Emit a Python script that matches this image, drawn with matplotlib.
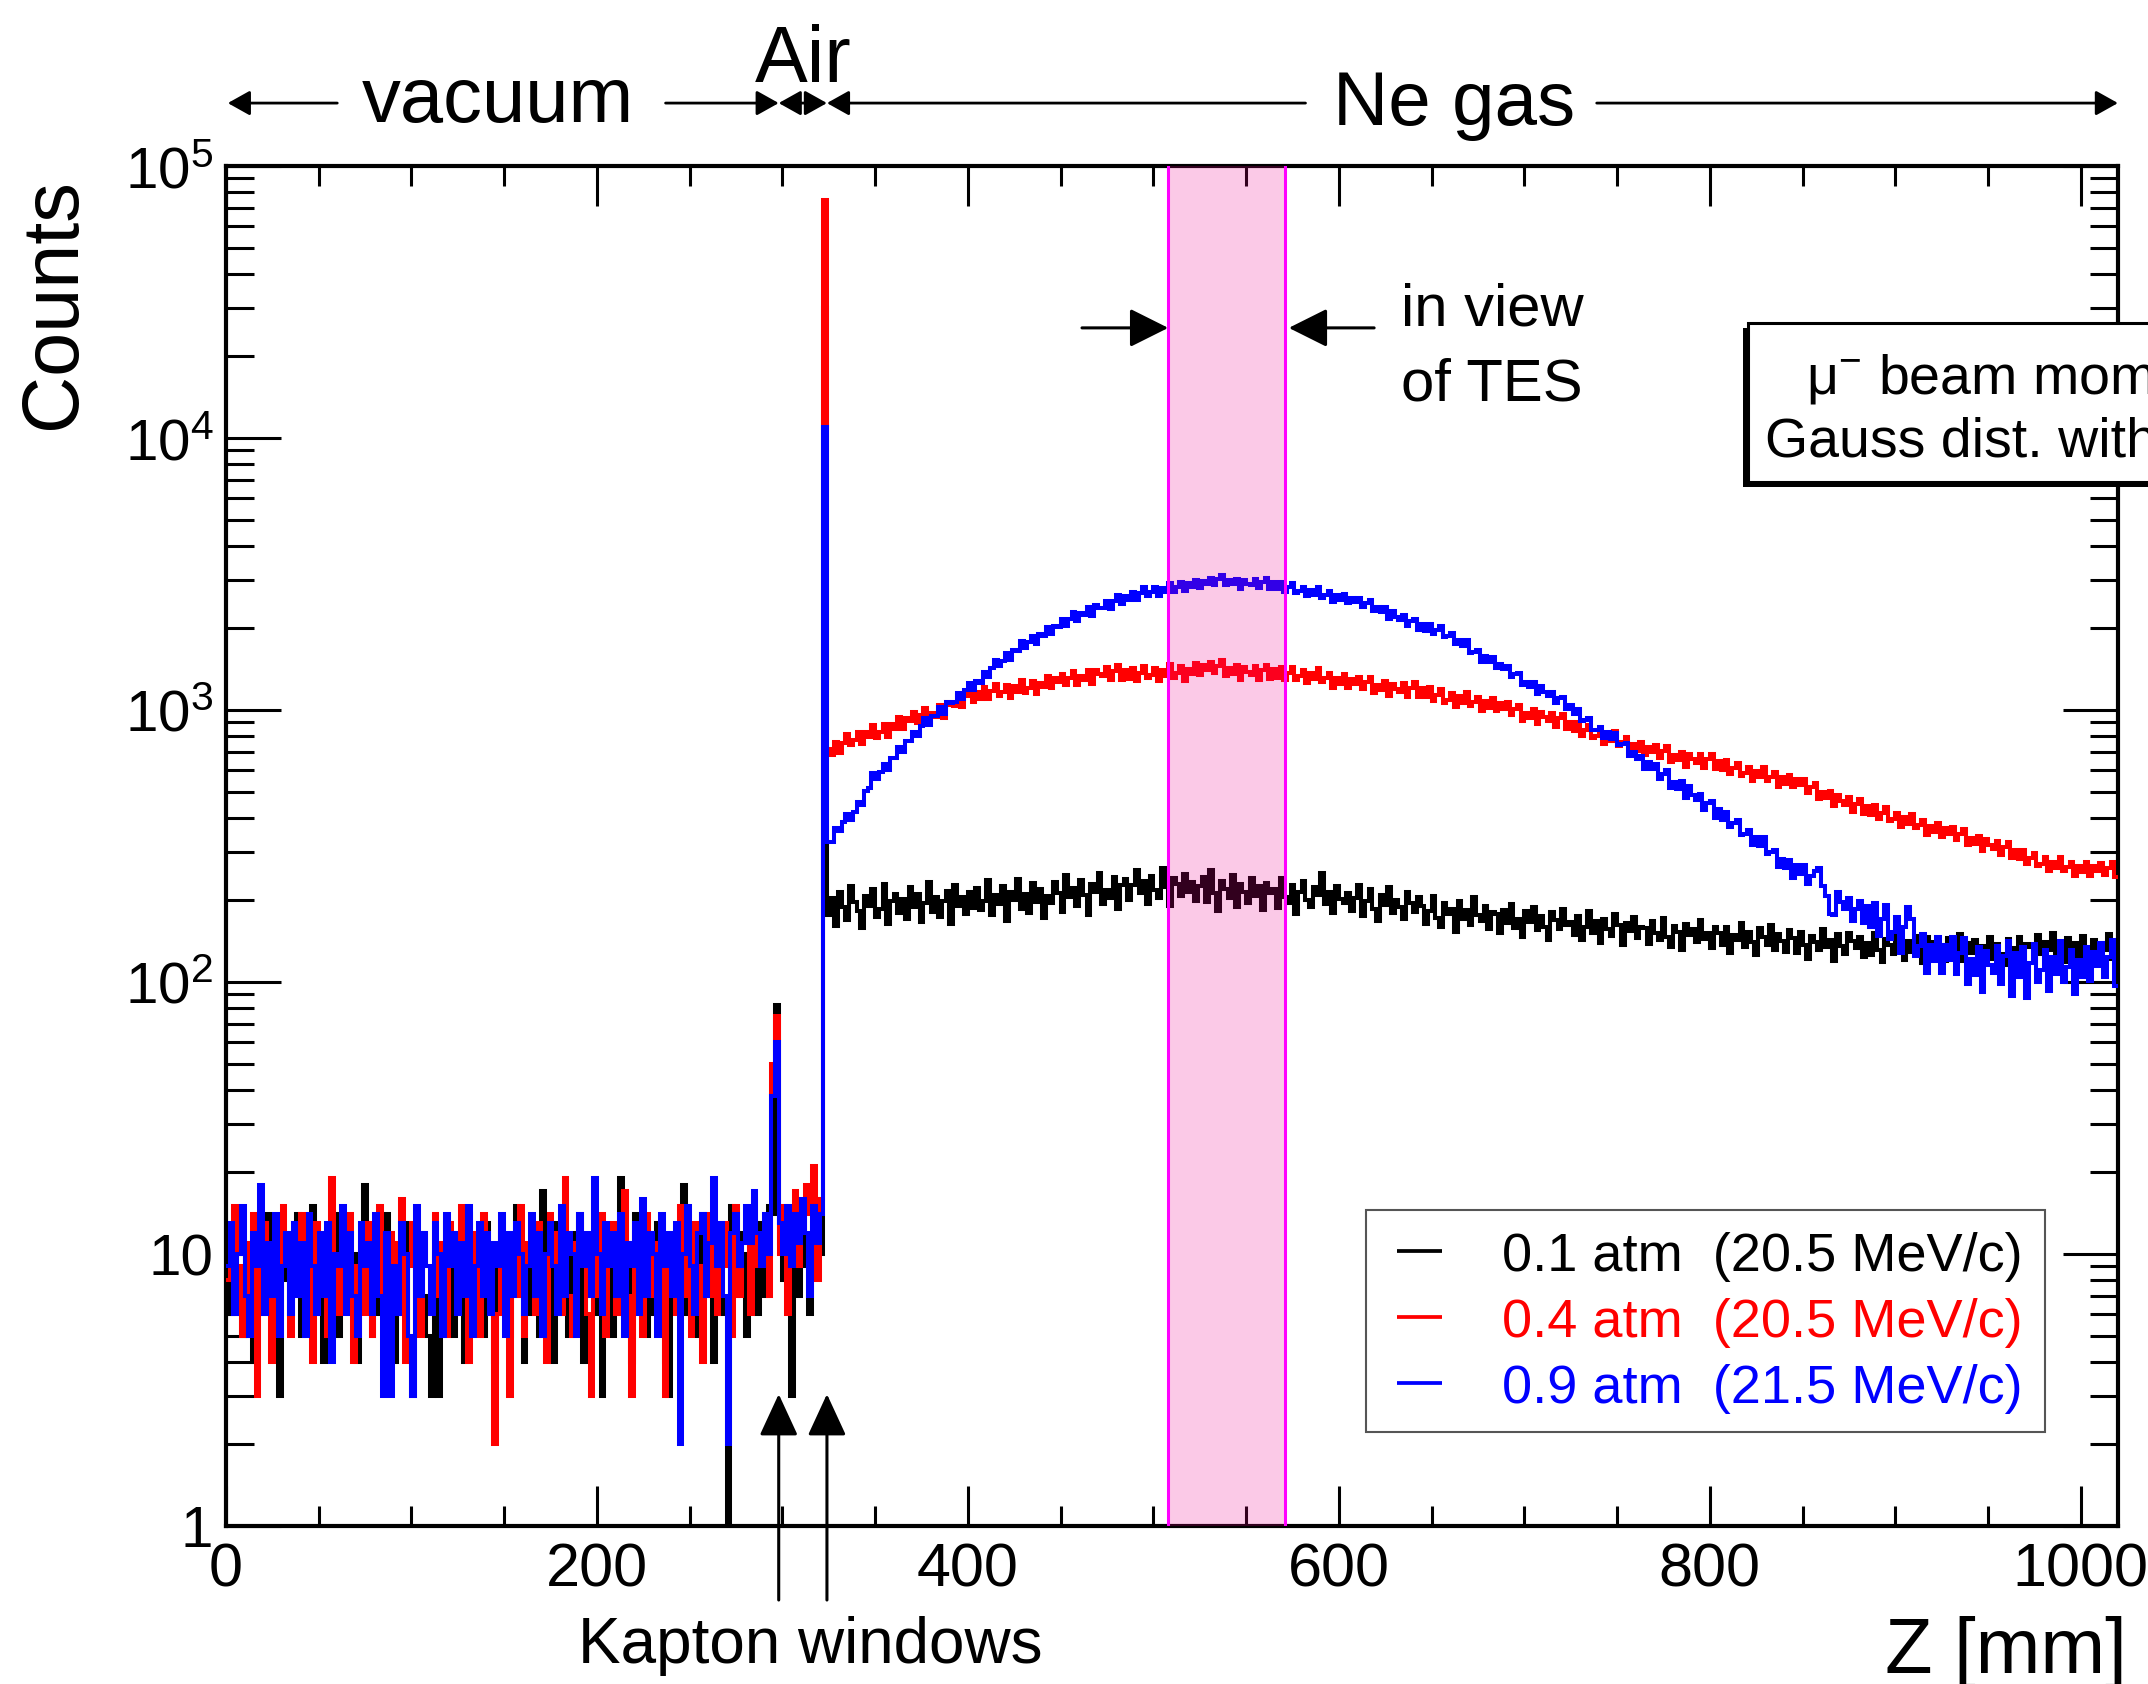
import numpy as np
import matplotlib.pyplot as plt
from matplotlib.patches import Rectangle
from matplotlib.ticker import MultipleLocator, LogLocator, NullFormatter

plt.rcParams['font.family'] = ['Liberation Sans', 'DejaVu Sans']
plt.rcParams['mathtext.fontset'] = 'custom'
plt.rcParams['mathtext.rm'] = 'Liberation Sans'
plt.rcParams['mathtext.default'] = 'regular'

BIN_MM = 2  # histogram bin width along Z

# ---- counts per 2 mm bin ----
# vacuum + air part, Z = 0 .. 322 mm (161 bins)
black_front = [
    10, 6, 13, 8, 5, 11, 9, 4, 8, 12, 6, 14, 9, 5, 3, 8, 12, 6, 9, 14,
    5, 8, 11, 15, 6, 9, 4, 12, 7, 14, 5, 9, 13, 6, 10, 4, 8, 18, 9, 5,
    12, 6, 9, 14, 7, 4, 11, 6, 13, 5, 3, 9, 12, 7, 5, 3, 10, 3, 6, 13,
    9, 5, 12, 7, 4, 14, 9, 6, 11, 5, 13, 8, 4, 9, 12, 6, 5, 10, 15, 7,
    4, 9, 6, 12, 5, 17, 7, 11, 4, 13, 6, 9, 5, 12, 7, 14, 4, 9, 11, 6,
    13, 3, 7, 12, 5, 9, 19, 6, 11, 4, 14, 7, 9, 5, 12, 6, 13, 9, 4, 3,
    11, 7, 13, 18, 6, 9, 12, 5, 14, 7, 11, 4, 13, 9, 6, 0, 15, 7, 12, 10,
    5, 14, 9, 6, 13, 7, 15, 14, 82, 11, 8, 14, 3, 10, 7, 15, 9, 6, 13, 16, 10,
]
red_front = [
    8, 12, 15, 9, 5, 11, 6, 14, 3, 9, 13, 7, 4, 11, 6, 15, 9, 5, 12, 7,
    14, 6, 9, 4, 13, 7, 11, 5, 19, 9, 6, 12, 7, 14, 4, 9, 11, 6, 13, 5,
    9, 15, 7, 5, 12, 6, 11, 16, 4, 9, 13, 7, 5, 12, 9, 6, 14, 7, 11, 5,
    13, 9, 6, 15, 7, 4, 12, 9, 5, 14, 7, 11, 2, 6, 13, 9, 3, 12, 7, 15,
    5, 11, 9, 6, 13, 7, 4, 14, 9, 12, 6, 19, 7, 5, 11, 13, 9, 6, 3, 12,
    7, 14, 5, 9, 13, 6, 11, 17, 7, 3, 12, 9, 5, 14, 7, 11, 6, 13, 3, 9,
    12, 6, 15, 7, 11, 5, 13, 9, 4, 14, 7, 12, 6, 11, 13, 9, 5, 15, 7, 11,
    13, 6, 16, 9, 12, 14, 7, 50, 75, 10, 15, 6, 13, 17, 9, 12, 18, 14, 21, 8, 16,
]
blue_front = [
    9, 13, 6, 10, 15, 7, 5, 12, 9, 18, 6, 11, 7, 14, 5, 9, 12, 6, 13, 7,
    11, 5, 14, 9, 6, 12, 7, 13, 4, 10, 9, 15, 6, 12, 7, 5, 13, 9, 11, 6,
    14, 7, 3, 12, 3, 9, 6, 13, 10, 5, 3, 15, 7, 12, 9, 6, 13, 10, 5, 14,
    9, 12, 6, 11, 7, 15, 5, 9, 13, 7, 12, 6, 11, 9, 14, 5, 12, 7, 13, 10,
    6, 9, 14, 7, 12, 5, 10, 13, 9, 6, 15, 7, 12, 10, 5, 14, 9, 12, 7, 19,
    10, 6, 13, 9, 12, 7, 14, 5, 11, 9, 13, 6, 16, 7, 12, 10, 5, 14, 9, 12,
    7, 13, 2, 10, 15, 9, 6, 12, 14, 7, 11, 19, 9, 13, 7, 2, 12, 14, 9, 11,
    15, 11, 17, 12, 9, 14, 10, 38, 60, 13, 10, 15, 9, 14, 11, 16, 12, 7, 15, 11, 14,
]

# second Kapton window, bin 322-324 mm
black_window = 30000
red_window = 75000
blue_window = 11000

# Ne gas part, Z = 324 .. 1020 mm (348 bins)
black_gas = [
    176, 203, 161, 214, 188, 169, 225, 197, 182, 158, 207, 191, 219, 173, 186, 230, 164, 198, 211, 180,
    202, 171, 224, 189, 210, 166, 195, 233, 181, 206, 174, 199, 217, 163, 228, 190, 205, 178, 214, 187,
    221, 184, 198, 237, 176, 209, 193, 226, 168, 215, 200, 240, 186, 211, 179, 231, 197, 219, 172, 208,
    196, 234, 213, 181, 247, 205, 222, 190, 238, 209, 176, 229, 214, 251, 193, 218, 203, 243, 186, 227,
    239, 201, 227, 258, 212, 236, 194, 245, 218, 203, 262, 224, 191, 241, 229, 207, 250, 215, 233, 198,
    226, 244, 197, 259, 212, 183, 236, 219, 204, 248, 188, 230, 215, 196, 241, 207, 225, 184, 232, 213,
    219, 187, 241, 205, 196, 228, 178, 214, 235, 201, 189, 223, 209, 252, 193, 214, 180, 226, 202, 195,
    212, 183, 204, 227, 175, 198, 219, 186, 167, 209, 192, 224, 179, 201, 188, 170, 214, 196, 181, 205,
    191, 164, 183, 207, 172, 159, 195, 178, 186, 153, 198, 171, 184, 162, 205, 176, 168, 190, 157, 181,
    178, 152, 184, 165, 194, 158, 171, 147, 182, 166, 189, 155, 175, 160, 143, 181, 169, 157, 186, 162,
    166, 149, 175, 143, 160, 183, 152, 168, 139, 171, 157, 148, 178, 162, 137, 165, 154, 173, 145, 159,
    158, 138, 167, 151, 143, 172, 147, 135, 161, 153, 131, 164, 149, 157, 140, 169, 144, 152, 133, 160,
    151, 137, 160, 128, 149, 143, 165, 134, 153, 140, 126, 158, 146, 137, 162, 131, 150, 142, 129, 155,
    145, 128, 153, 137, 122, 148, 140, 131, 157, 134, 143, 119, 150, 136, 127, 152, 141, 133, 146, 124,
    139, 126, 151, 131, 118, 144, 137, 127, 155, 133, 121, 142, 129, 148, 135, 117, 146, 130, 140, 125,
    137, 120, 145, 131, 126, 150, 119, 139, 128, 143, 115, 136, 132, 147, 122, 138, 127, 116, 144, 133,
    129, 146, 121, 138, 134, 117, 149, 127, 140, 131, 152, 123, 136, 118, 145, 130, 139, 124, 148, 132,
    126, 143, 118, 139, 131, 150, 122, 137,
]
red_gas = [
    718, 681, 761, 695, 755, 815, 744, 774, 830, 749, 827, 794, 881, 787, 832, 886, 796, 885, 854, 943,
    850, 932, 908, 983, 898, 962, 1018, 901, 976, 946, 1042, 938, 1067, 1043, 1036, 1133, 1027, 1127, 1196, 1074,
    1169, 1099, 1212, 1094, 1174, 1250, 1124, 1162, 1237, 1110, 1222, 1168, 1294, 1156, 1210, 1277, 1141, 1262, 1211, 1335,
    1207, 1312, 1264, 1358, 1233, 1314, 1390, 1231, 1334, 1292, 1408, 1251, 1403, 1353, 1330, 1443, 1291, 1396, 1459, 1293,
    1399, 1303, 1428, 1283, 1368, 1453, 1308, 1348, 1430, 1280, 1403, 1335, 1475, 1315, 1374, 1446, 1284, 1417, 1355, 1490,
    1343, 1465, 1408, 1507, 1365, 1450, 1522, 1333, 1425, 1361, 1465, 1290, 1434, 1375, 1344, 1449, 1295, 1402, 1469, 1305,
    1411, 1315, 1436, 1285, 1364, 1442, 1291, 1330, 1406, 1255, 1372, 1301, 1430, 1264, 1311, 1369, 1207, 1317, 1246, 1355,
    1207, 1302, 1244, 1326, 1196, 1266, 1324, 1159, 1241, 1185, 1276, 1123, 1250, 1197, 1164, 1253, 1119, 1209, 1265, 1121,
    1208, 1120, 1214, 1078, 1136, 1194, 1065, 1092, 1155, 1029, 1123, 1063, 1167, 1034, 1072, 1120, 988, 1078, 1020, 1110,
    990, 1062, 1010, 1070, 958, 1007, 1044, 911, 975, 932, 1005, 885, 986, 944, 915, 979, 868, 931, 967, 850,
    906, 836, 904, 801, 842, 883, 787, 805, 846, 751, 816, 769, 840, 740, 763, 793, 695, 753, 708, 765,
    681, 733, 700, 744, 669, 706, 736, 642, 686, 655, 704, 619, 688, 658, 640, 688, 613, 659, 687, 606,
    652, 602, 653, 580, 610, 641, 571, 585, 617, 549, 597, 565, 619, 547, 566, 590, 520, 566, 534, 577,
    520, 557, 529, 558, 497, 522, 541, 470, 499, 473, 505, 442, 488, 462, 447, 477, 421, 452, 470, 414,
    445, 411, 446, 396, 417, 439, 390, 399, 419, 372, 404, 381, 416, 367, 379, 394, 346, 376, 355, 385,
    342, 368, 350, 371, 333, 351, 365, 318, 339, 323, 345, 303, 335, 319, 309, 331, 293, 314, 326, 286,
    307, 283, 305, 271, 285, 299, 266, 272, 287, 255, 277, 263, 288, 255, 265, 277, 245, 267, 253, 276,
    246, 267, 255, 273, 248, 263, 276, 243,
]
blue_gas = [
    328, 328, 369, 359, 386, 415, 393, 422, 461, 447, 505, 518, 586, 558, 592, 631, 603, 667, 666, 733,
    703, 767, 770, 829, 804, 872, 937, 881, 952, 952, 1029, 966, 1071, 1064, 1072, 1158, 1099, 1188, 1257, 1180,
    1275, 1257, 1381, 1325, 1428, 1531, 1448, 1516, 1617, 1533, 1665, 1644, 1797, 1685, 1772, 1869, 1746, 1896, 1864, 2012,
    1898, 2042, 2022, 2154, 2042, 2170, 2286, 2125, 2267, 2242, 2401, 2223, 2431, 2379, 2364, 2515, 2357, 2519, 2639, 2451,
    2633, 2532, 2718, 2549, 2689, 2833, 2636, 2707, 2831, 2633, 2807, 2721, 2939, 2723, 2830, 2954, 2733, 2925, 2835, 3017,
    2807, 2975, 2912, 3067, 2876, 3023, 3147, 2870, 2995, 2899, 3045, 2780, 3005, 2917, 2876, 3034, 2815, 2968, 3057, 2793,
    2950, 2794, 2952, 2724, 2828, 2931, 2692, 2741, 2840, 2619, 2766, 2658, 2830, 2587, 2654, 2732, 2496, 2650, 2545, 2681,
    2470, 2591, 2502, 2590, 2395, 2482, 2548, 2310, 2397, 2298, 2391, 2160, 2305, 2200, 2141, 2227, 2037, 2123, 2166, 1969,
    2075, 1960, 2066, 1904, 1974, 2034, 1857, 1878, 1925, 1747, 1816, 1716, 1805, 1624, 1640, 1669, 1508, 1582, 1503, 1569,
    1431, 1482, 1413, 1449, 1322, 1352, 1368, 1231, 1272, 1220, 1269, 1148, 1225, 1167, 1130, 1169, 1064, 1103, 1119, 1007,
    1046, 971, 1006, 909, 923, 937, 842, 847, 868, 792, 827, 785, 826, 743, 748, 755, 675, 702, 660, 680,
    606, 645, 605, 633, 556, 580, 601, 516, 546, 514, 548, 474, 524, 489, 467, 493, 429, 454, 464, 401,
    432, 394, 422, 370, 385, 394, 347, 349, 363, 318, 341, 317, 340, 296, 300, 307, 265, 283, 263, 282,
    242, 269, 249, 270, 229, 246, 257, 262, 226, 207, 178, 176, 214, 197, 186, 204, 168, 186, 198, 165,
    191, 159, 196, 148, 170, 192, 144, 153, 173, 128, 159, 188, 170, 125, 136, 150, 108, 137, 119, 147,
    108, 137, 121, 146, 107, 128, 145, 98, 122, 106, 135, 92, 130, 116, 108, 136, 98, 125, 141, 89,
    128, 104, 135, 87, 117, 138, 100, 111, 131, 93, 124, 107, 141, 100, 114, 131, 90, 121, 104, 135,
    101, 129, 115, 139, 104, 124, 143, 97,
]

series_labels = ['0.1 atm  (20.5 MeV/c)', '0.4 atm  (20.5 MeV/c)', '0.9 atm  (21.5 MeV/c)']
series_colors = ['black', 'red', 'blue']

view_range = (508, 571)           # TES field of view [mm]
kapton_z = [298, 324]             # Kapton window positions [mm]
ytick_vals = [1, 10, 100, 1e3, 1e4, 1e5]
ytick_labels = ['1', '10', r'$10^{2}$', r'$10^{3}$', r'$10^{4}$', r'$10^{5}$']

counts_01 = black_front + [black_window] + black_gas
counts_04 = red_front + [red_window] + red_gas
counts_09 = blue_front + [blue_window] + blue_gas
assert len(counts_01) == len(counts_04) == len(counts_09) == 510, (len(counts_01), len(counts_04), len(counts_09))
edges = np.arange(len(counts_01) + 1) * BIN_MM

fig = plt.figure(figsize=(21.48, 16.84), dpi=100)
ax = fig.add_axes([0.1052, 0.0938, 0.8808, 0.8076])

for counts, color, z in zip([counts_01, counts_04, counts_09], series_colors, [2, 3, 4]):
    ax.stairs(counts, edges, color=color, lw=2.9, baseline=None, zorder=z)

# TES field of view band drawn over the histograms
ax.axvspan(*view_range, facecolor='#f00090', alpha=0.21, lw=0, zorder=5)
for x in view_range:
    ax.axvline(x, color='#ff00ff', lw=2.2, zorder=6)

ax.set_yscale('log', nonpositive='clip')
ax.set_xlim(0, 1020)
ax.set_ylim(1, 1e5)
ax.xaxis.set_major_locator(MultipleLocator(200))
ax.xaxis.set_minor_locator(MultipleLocator(50))
ax.set_yticks(ytick_vals, ytick_labels)
ax.yaxis.set_minor_locator(LogLocator(base=10, subs=np.arange(2, 10)))
ax.yaxis.set_minor_formatter(NullFormatter())
ax.tick_params(which='both', direction='in', top=True, right=True, width=2.2)
ax.tick_params(axis='x', which='major', length=29, labelsize=44, pad=12)
ax.tick_params(axis='x', which='minor', length=14.5)
ax.tick_params(axis='y', which='major', length=39.6, labelsize=42, pad=9)
ax.tick_params(axis='y', which='minor', length=20)
for s in ax.spines.values():
    s.set_linewidth(3)

xtrans = ax.get_xaxis_transform()


def arrow(x_from, y_from, x_to, y_to, style='-|>', hl=0.68, hw=0.38, lw=2.0):
    ax.annotate('', xy=(x_to, y_to), xytext=(x_from, y_from),
                xycoords=xtrans, textcoords=xtrans, annotation_clip=False,
                arrowprops=dict(arrowstyle=f'{style},head_length={hl},head_width={hw}',
                                mutation_scale=20, lw=lw, color='k',
                                shrinkA=0, shrinkB=0))


# region annotations above the frame
y_top = 1.0463
arrow(60, y_top, 1, y_top)
arrow(237, y_top, 298, y_top)
arrow(298, y_top, 324, y_top, style='<|-|>')
arrow(582, y_top, 324, y_top)
arrow(739, y_top, 1020, y_top)
ax.text(146.6, 1.0324, 'vacuum', transform=xtrans, ha='center', va='baseline', fontsize=56)
ax.text(311, 1.0618, 'Air', transform=xtrans, ha='center', va='baseline', fontsize=57)
ax.text(662, 1.0301, 'Ne gas', transform=xtrans, ha='center', va='baseline', fontsize=55)

# field of view arrows
arrow(461.5, 0.881, view_range[0], 0.881, hl=1.2, hw=0.6, lw=2.2)
arrow(619, 0.881, view_range[1] + 2, 0.881, hl=1.2, hw=0.6, lw=2.2)
ax.text(633.4, 0.8831, 'in view', transform=xtrans, ha='left', va='baseline', fontsize=43)
ax.text(633.4, 0.8279, 'of TES', transform=xtrans, ha='left', va='baseline', fontsize=43)

# Kapton window arrows
for zk in kapton_z:
    arrow(zk, -0.0544, zk, 0.097, hl=1.3, hw=0.6, lw=2.2)
ax.text(315, -0.1007, 'Kapton windows', transform=xtrans, ha='center', va='baseline', fontsize=46)

# legend box
ax.add_patch(Rectangle((0.6025, 0.0691), 0.3589, 0.1633, transform=ax.transAxes,
                       facecolor='white', edgecolor='#555555', lw=1.5, zorder=7))
row_y = [0.1875, 0.1391, 0.0907]
for label, color, yb in zip(series_labels, series_colors, row_y):
    ax.plot([0.619, 0.643], [yb + 0.0147] * 2, transform=ax.transAxes, color=color,
            lw=2.7, zorder=8, solid_capstyle='butt')
    ax.text(0.6742, yb, label, transform=ax.transAxes, color=color, ha='left',
            va='baseline', fontsize=39, zorder=8)

# beam info box (cut by the right edge of the figure)
fig.add_artist(Rectangle((0.8115, 0.7108), 0.3, 0.0944, transform=fig.transFigure,
                         facecolor='black', edgecolor='none', zorder=9))
fig.add_artist(Rectangle((0.8138, 0.7138), 0.3, 0.0944, transform=fig.transFigure,
                         facecolor='white', edgecolor='black', lw=2.2, zorder=10))
fig.text(0.8408, 0.7666, r'$\mathregular{μ^{-}}$ beam momentum', fontsize=40,
         ha='left', va='baseline', zorder=11)
fig.text(0.8217, 0.7292, 'Gauss dist. with σ = 2 %', fontsize=40,
         ha='left', va='baseline', zorder=11)

fig.text(0.0256, 0.820, 'Counts', rotation=90, ha='center', va='center', fontsize=57)
fig.text(0.990, 0.0065, 'Z [mm]', ha='right', va='baseline', fontsize=56)

fig.savefig('out.png', dpi=100)
